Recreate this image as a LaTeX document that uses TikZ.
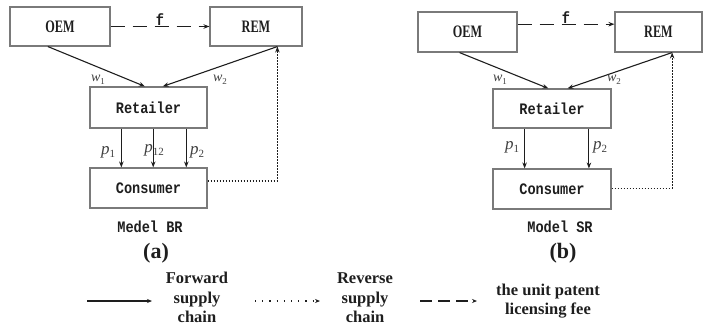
\documentclass[tikz,border=0pt]{standalone}
\usepackage{fontspec}
\setmainfont{Liberation Serif}
\newfontfamily\boxfont[FakeStretch=0.85]{Liberation Mono Bold}
\newfontfamily\capfont[FakeStretch=0.7]{Liberation Serif Bold}
\usetikzlibrary{arrows.meta,calc}

\definecolor{boxgray}{HTML}{7A7A7A}
\definecolor{ink}{HTML}{1E1E1E}

% italic variable with a numeric subscript
\newcommand{\wlab}[1]{{\fontsize{14}{14}\selectfont\textit{w}\raisebox{-0.45ex}{\fontsize{9}{9}\selectfont #1}}}
\newcommand{\plab}[1]{{\fontsize{17}{17}\selectfont\textit{p}\raisebox{-0.45ex}{\fontsize{11}{11}\selectfont #1}}}

\tikzset{
  blk/.style={draw=boxgray, line width=1.1pt, inner sep=0pt, text=ink},
  monolab/.style={font=\boxfont\fontsize{16}{16}\selectfont},
  caplab/.style={font=\capfont\fontsize{17.5}{17.5}\selectfont},
  flow/.style={draw=ink, line width=1.1pt, -{Stealth[length=6pt,width=4.5pt]}},
  rev/.style={flow, line width=1.3pt, dash pattern=on 1.5pt off 1.5pt},
  fee/.style={flow, dash pattern=on 14pt off 8pt},
  varlab/.style={inner sep=0pt, text=ink!85},
  legtxt/.style={align=center, inner sep=0pt, text=ink, font=\bfseries\fontsize{16.5}{19.5}\selectfont},
  subcap/.style={inner sep=0pt, text=ink, font=\bfseries\fontsize{22}{22}\selectfont},
  modlab/.style={inner sep=0pt, text=ink, font=\boxfont\fontsize{16}{16}\selectfont}
}

\begin{document}
\begin{tikzpicture}[x=1pt, y=-1pt]
\useasboundingbox (0,0) rectangle (703,327);

% ---------- model BR ----------
\node[blk, caplab, minimum width=100pt, minimum height=39pt] (oemA) at (60,26.5) {OEM};
\node[blk, caplab, minimum width=92pt, minimum height=39pt] (remA) at (256,26.5) {REM};
\node[blk, monolab, minimum width=117pt, minimum height=41pt] (retA) at (148.5,107.5) {Retailer};
\node[blk, monolab, minimum width=117pt, minimum height=40pt] (conA) at (148.5,188) {Consumer};

\draw[fee] (oemA.east) -- (remA.west);
\node[monolab, inner sep=0pt, anchor=base, text=ink] (fA) at ($(oemA.east)!0.5!(remA.west)+(0,-1)$) {f};

\draw[flow] ($(oemA.south west)!0.38!(oemA.south east)$) -- ($(retA.north west)!0.47!(retA.north east)$);
\draw[flow] ($(remA.south west)!0.73!(remA.south east)$) -- ($(retA.north west)!0.62!(retA.north east)$);
\node[varlab] (w1A) at (98,80) {\wlab{1}};
\node[varlab] (w2A) at (220,80) {\wlab{2}};

\draw[flow] ($(retA.south west)!0.27!(retA.south east)$) -- ($(conA.north west)!0.27!(conA.north east)$);
\draw[flow] ($(retA.south west)!0.54!(retA.south east)$) -- ($(conA.north west)!0.54!(conA.north east)$);
\draw[flow] ($(retA.south west)!0.82!(retA.south east)$) -- ($(conA.north west)!0.82!(conA.north east)$);
\node[varlab] (p1A) at (108,152) {\plab{1}};
\node[varlab] (p12A) at (154,150) {\plab{12}};
\node[varlab] (p2A) at (197,152) {\plab{2}};

\coordinate (dA) at ($(conA.north east)!0.33!(conA.south east)$);
\draw[rev] (dA) -| ($(remA.south west)!0.73!(remA.south east)$);

\node[modlab, anchor=base] (nameA) at (150,232) {Medel BR};
\node[subcap, anchor=base] (capA) at (156,258) {(a)};

% ---------- model SR ----------
\node[blk, caplab, minimum width=99pt, minimum height=40pt] (oemB) at (467.5,32) {OEM};
\node[blk, caplab, minimum width=87pt, minimum height=40pt] (remB) at (658.5,32) {REM};
\node[blk, monolab, minimum width=118pt, minimum height=39pt] (retB) at (552,108.5) {Retailer};
\node[blk, monolab, minimum width=118pt, minimum height=40pt] (conB) at (552,189) {Consumer};

\coordinate (fB) at ($(oemB.north east)!0.31!(oemB.south east)$);
\draw[fee] (fB) -- (fB -| remB.west);
\node[monolab, inner sep=0pt, anchor=base, text=ink] (fBl) at ($(fB)!0.5!(fB -| remB.west)+(0,-1)$) {f};

\draw[flow] ($(oemB.south west)!0.42!(oemB.south east)$) -- ($(retB.north west)!0.47!(retB.north east)$);
\draw[flow] ($(remB.south west)!0.655!(remB.south east)$) -- ($(retB.north west)!0.63!(retB.north east)$);
\node[varlab] (w1B) at (500,80) {\wlab{1}};
\node[varlab] (w2B) at (614,80) {\wlab{2}};

\draw[flow] ($(retB.south west)!0.27!(retB.south east)$) -- ($(conB.north west)!0.27!(conB.north east)$);
\draw[flow] ($(retB.south west)!0.81!(retB.south east)$) -- ($(conB.north west)!0.81!(conB.north east)$);
\node[varlab] (p1B) at (512,147) {\plab{1}};
\node[varlab] (p2B) at (600,147) {\plab{2}};

\coordinate (dB) at ($(conB.north east)!0.48!(conB.south east)$);
\draw[rev] (dB) -| ($(remB.south west)!0.655!(remB.south east)$);

\node[modlab, anchor=base] (nameB) at (560,232) {Model SR};
\node[subcap, anchor=base] (capB) at (563,258) {(b)};

% ---------- legend ----------
\coordinate (l1s) at (87,301);
\coordinate (l1e) at (152,301);
\draw[flow, -{Stealth[length=5pt,width=4pt]}] (l1s) -- (l1e);
\node[legtxt] (l1t) at (197,297.8) {Forward\\supply\\chain};

\coordinate (l2s) at (255,301);
\coordinate (l2e) at (320,301);
\draw[flow, dash pattern=on 1.2pt off 6pt, -{Stealth[length=5pt,width=4pt]}] (l2s) -- (l2e);
\node[legtxt] (l2t) at (365,297.8) {Reverse\\supply\\chain};

\coordinate (l3s) at (420,301);
\coordinate (l3e) at (477,301);
\draw[flow, dash pattern=on 12pt off 6pt, -{Stealth[length=5pt,width=4pt]}] (l3s) -- (l3e);
\node[legtxt] (l3t) at (548,301) {the unit patent\\licensing fee};
\end{tikzpicture}
\end{document}
